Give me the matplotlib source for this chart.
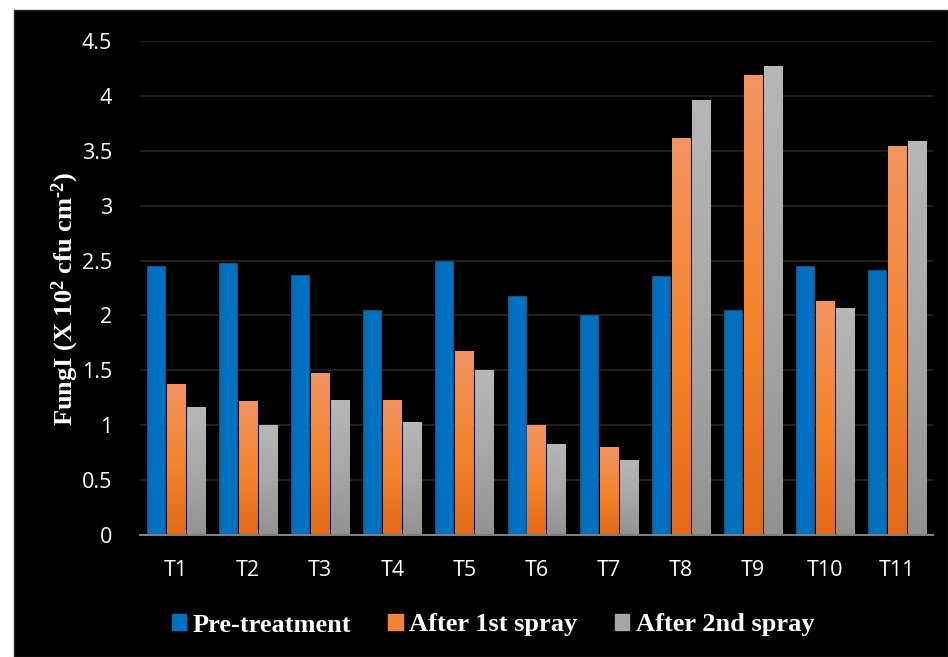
import numpy as np
import matplotlib.pyplot as plt
from matplotlib.patches import Patch, Rectangle
from matplotlib.colors import LinearSegmentedColormap

treatments = ["T1", "T2", "T3", "T4", "T5", "T6", "T7", "T8", "T9", "T10", "T11"]
pre_treatment = [2.45, 2.48, 2.37, 2.05, 2.50, 2.18, 2.00, 2.36, 2.05, 2.45, 2.41]
after_1st = [1.38, 1.22, 1.48, 1.23, 1.68, 1.00, 0.80, 3.62, 4.19, 2.13, 3.54]
after_2nd = [1.17, 1.00, 1.23, 1.03, 1.50, 0.83, 0.68, 3.96, 4.27, 2.07, 3.59]
yticks = [0, 0.5, 1, 1.5, 2, 2.5, 3, 3.5, 4, 4.5]
ytick_labels = ["0", "0.5", "1", "1.5", "2", "2.5", "3", "3.5", "4", "4.5"]

plt.rcParams['mathtext.fontset'] = 'custom'
plt.rcParams['mathtext.rm'] = 'Liberation Serif:bold'
plt.rcParams['mathtext.bf'] = 'Liberation Serif:bold'
plt.rcParams['mathtext.it'] = 'Liberation Serif:bold'

fig = plt.figure(figsize=(9.48, 6.57), dpi=100)
fig.patch.set_facecolor('white')
# black panel behind the chart
fig.add_artist(Rectangle((14 / 948, 0), 1 - 14 / 948, 1 - 10 / 657, transform=fig.transFigure,
                         facecolor='black', edgecolor='#2a2a2a', lw=1, zorder=0))

ax = fig.add_axes([140 / 948, 1 - 535 / 657, 793 / 948, 494 / 657])
ax.set_facecolor('black')
ax.patch.set_alpha(0)

x = np.arange(len(treatments))
w = 0.25
off = 0.277

ax.bar(x - off, pre_treatment, w, color='#0070C0', edgecolor='#1d4f7a', lw=0.8, zorder=3)

orange_map = LinearSegmentedColormap.from_list('o', ['#E26A18', '#F5852F', '#F19462'])
gray_map = LinearSegmentedColormap.from_list('g', ['#929292', '#A8A8A8', '#B7B7B7'])
grad = np.linspace(0, 1, 256).reshape(-1, 1)

for vals, dx, cmap in [(after_1st, 0, orange_map), (after_2nd, off, gray_map)]:
    bars = ax.bar(x + dx, vals, w, color='none', lw=0, zorder=3)
    for b in bars:
        x0, h = b.get_x(), b.get_height()
        im = ax.imshow(grad, cmap=cmap, origin='lower', aspect='auto',
                       extent=[x0, x0 + w, 0, h], zorder=3)
        im.set_clip_path(b)

ax.set_xlim(-0.5, len(treatments) - 0.5)
ax.set_ylim(0, 4.5)
ax.set_yticks(yticks)
ax.set_yticklabels(ytick_labels)
ax.set_xticks(x)
ax.set_xticklabels(treatments)
ax.tick_params(length=0, colors='white', labelsize=15.5)
ax.tick_params(axis='y', pad=20)
ax.tick_params(axis='x', pad=18)
for lab in ax.get_xticklabels() + ax.get_yticklabels():
    lab.set_fontfamily('Open Sans')
ax.grid(axis='y', color='#262626', lw=1.2, zorder=0)
ax.set_axisbelow(True)
for s in ['top', 'right', 'left']:
    ax.spines[s].set_visible(False)
ax.spines['bottom'].set_color('#7f7f7f')
ax.spines['bottom'].set_linewidth(1.5)
ax.spines['bottom'].set_zorder(4)

ax.set_ylabel('FungI (X 10$^{2}$ cfu cm$^{\u2010 2}$)', color='white', fontsize=19,
              fontfamily='Liberation Serif', fontweight='bold')
ax.yaxis.set_label_coords(-0.075, 0.478)

handles = [Patch(color='#0070C0'), Patch(color='#F28438'), Patch(color='#A6A6A6')]
leg = fig.legend(handles, ['Pre-treatment', 'After 1st spray', 'After 2nd spray'],
                 loc='center', bbox_to_anchor=(0.52, 1 - 625 / 657), ncol=3, frameon=False,
                 prop={'family': 'Liberation Serif', 'weight': 'bold', 'size': 19},
                 handlelength=0.55, handleheight=0.55, handletextpad=0.25, columnspacing=1.4,
                 labelcolor='white')

fig.savefig('out.png', dpi=100, facecolor=fig.get_facecolor())
